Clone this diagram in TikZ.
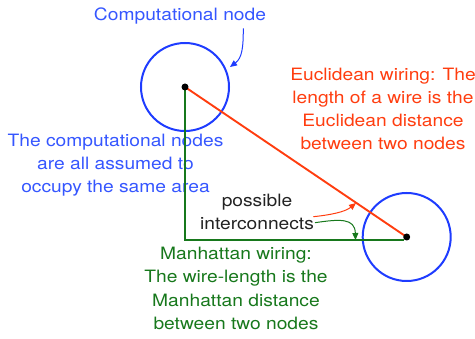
\documentclass[tikz,border=0pt]{standalone}
\usepackage{fontspec}
\setmainfont{TeX Gyre Heros}[FakeStretch=1.13]
\usetikzlibrary{arrows.meta}
\definecolor{cblue}{HTML}{1E3CFF}
\definecolor{tblue}{HTML}{3556FF}
\definecolor{cred}{HTML}{FF3D0F}
\definecolor{cgreen}{HTML}{17781C}
\definecolor{tgray}{HTML}{222222}
\begin{document}
\begin{tikzpicture}[x=1pt,y=-1pt,
  lbl/.style={inner sep=0pt, align=center, anchor=base, font=\fontsize{17}{23.2}\selectfont},
  cnode/.style={circle, draw=cblue, line width=2pt, minimum size=88pt, inner sep=0pt},
  dotm/.style={circle, fill=black, minimum size=7pt, inner sep=0pt},
  tip/.style={-{Triangle[length=7pt,width=6pt]}, line width=1pt}]
\useasboundingbox (0,0) rectangle (475,339);
% nodes
\node[cnode] (c1) at (185,87) {};
\node[cnode] (c2) at (406.7,237) {};
% wires
\coordinate (corner) at (185,240);
\coordinate (end) at (404,240);
\draw[cred, line width=1.9pt] (c1.center) -- (c2.center);
% labels (anchor base = baseline of last line)
\node[lbl, text=tblue] (comp) at (180,21) {Computational node};
\node[lbl, text=cred] (eucl) at (383,150) {Euclidean wiring: The\\length of a wire is the\\Euclidean distance\\between two nodes};
\node[lbl, text=tblue] (area) at (115.5,192.7) {The computational nodes\\are all assumed to\\occupy the same area};
\node[lbl, text=cgreen] (manh) at (236,329.3) {Manhattan wiring:\\The wire-length is the\\Manhattan distance\\between two nodes};
\node[lbl, text=tgray] (poss) at (257,230) {possible\\interconnects};
\draw[cgreen, line width=2.5pt] (c1.center) -- (corner) -- (end);
\node[dotm] (d1) at (c1.center) {};
\node[dotm] (d2) at (c2.center) {};
% arrows
\coordinate (compstart) at (243.3,28.5);
\coordinate (comptip) at (230,67);
\draw[tip, cblue] (compstart) .. controls (243.3,48) and (242,58) .. (comptip);
\coordinate (rstart) at (313.3,216.7);
\coordinate (rtip) at (356,203);
\draw[tip, cred] (rstart) .. controls (330,215) and (345,212) .. (rtip);
\coordinate (gstart) at (315,222.7);
\coordinate (gtip) at (355.5,240);
\draw[tip, cgreen] (gstart) .. controls (340,219) and (355,218) .. (gtip);
\end{tikzpicture}
\end{document}
